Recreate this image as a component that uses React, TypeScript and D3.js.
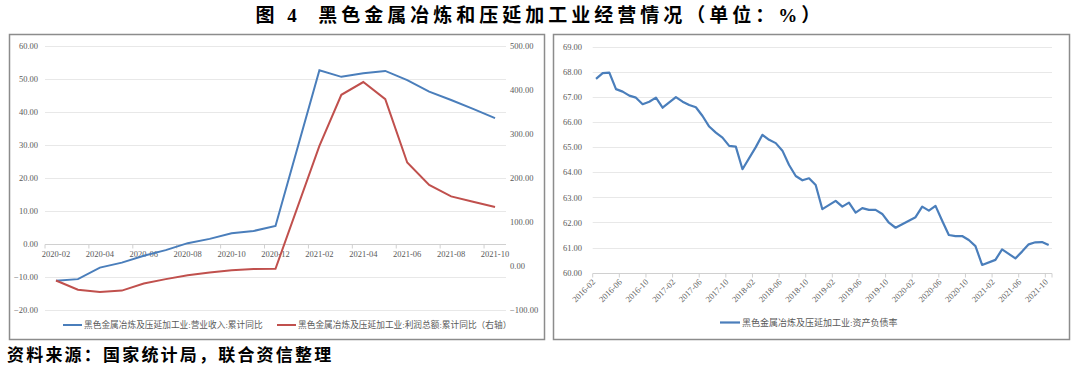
import { useEffect, useRef } from "react";
import * as d3 from "d3";

// left panel: 2020-02 .. 2021-10 (2021-01 not published)
const leftMonths = [
  "2020-02", "2020-03", "2020-04", "2020-05", "2020-06", "2020-07", "2020-08",
  "2020-09", "2020-10", "2020-11", "2020-12", "2021-01", "2021-02", "2021-03",
  "2021-04", "2021-05", "2021-06", "2021-07", "2021-08", "2021-09", "2021-10",
];
const revenueYoY = [
  -11.3, -10.8, -7.3, -5.8, -3.7, -2.0, 0.1, 1.4, 3.1, 3.8, 5.3, null,
  52.5, 50.5, 51.6, 52.3, 49.5, 46.0, 43.5, 40.8, 38.0,
];
const profitYoY = [
  -34, -55, -60, -57, -41, -31, -22, -16, -11, -8, -7.5, null,
  272, 388, 417, 378, 234, 183, 157, 145, 133,
];
const leftTicks = [-20, -10, 0, 10, 20, 30, 40, 50, 60];
const rightTicks = [-100, 0, 100, 200, 300, 400, 500];

// right panel: asset-liability ratio, no January values
const debtMonths = [
  "2016-02", "2016-03", "2016-04", "2016-05", "2016-06", "2016-07", "2016-08", "2016-09", "2016-10", "2016-11", "2016-12",
  "2017-02", "2017-03", "2017-04", "2017-05", "2017-06", "2017-07", "2017-08", "2017-09", "2017-10", "2017-11", "2017-12",
  "2018-02", "2018-03", "2018-04", "2018-05", "2018-06", "2018-07", "2018-08", "2018-09", "2018-10", "2018-11", "2018-12",
  "2019-02", "2019-03", "2019-04", "2019-05", "2019-06", "2019-07", "2019-08", "2019-09", "2019-10", "2019-11", "2019-12",
  "2020-02", "2020-03", "2020-04", "2020-05", "2020-06", "2020-07", "2020-08", "2020-09", "2020-10", "2020-11", "2020-12",
  "2021-02", "2021-03", "2021-04", "2021-05", "2021-06", "2021-07", "2021-08", "2021-09", "2021-10",
];
const debtRatio = [
  67.72, 67.95, 67.97, 67.31, 67.21, 67.05, 66.97, 66.71, 66.81, 66.97, 66.57,
  66.99, 66.81, 66.68, 66.59, 66.24, 65.82, 65.58, 65.38, 65.05, 65.02, 64.12,
  65.0, 65.49, 65.29, 65.16, 64.86, 64.29, 63.85, 63.68, 63.76, 63.49, 62.53,
  62.86, 62.63, 62.79, 62.39, 62.57, 62.5, 62.5, 62.34, 61.99, 61.79, 61.93,
  62.21, 62.63, 62.47, 62.66, 62.07, 61.5, 61.46, 61.46, 61.3, 61.06, 60.31,
  60.51, 60.93, 60.75, 60.57, 60.84, 61.13, 61.21, 61.22, 61.1,
];
const debtTicks = [60, 61, 62, 63, 64, 65, 66, 67, 68, 69];
const debtLabels = [
  "2016-02", "2016-06", "2016-10", "2017-02", "2017-06", "2017-10", "2018-02", "2018-06", "2018-10",
  "2019-02", "2019-06", "2019-10", "2020-02", "2020-06", "2020-10", "2021-02", "2021-06", "2021-10",
];

const W = 1080;
const H = 371;
const NUM = "'Liberation Serif', 'Times New Roman', serif";
const CJK = "'Liberation Serif', 'Noto Sans CJK SC', serif";
const TXT = "#595959";
const BLUE = "#4a7ebb";
const RED = "#c0504d";

const App = () => {
  const ref = useRef<SVGSVGElement | null>(null);

  useEffect(() => {
    const svg = d3.select(ref.current);
    svg.selectAll("*").remove();
    const fmt = d3.format(".2f");

    // title & source
    svg.append("text")
      .attr("x", W / 2).attr("y", 22)
      .attr("text-anchor", "middle")
      .attr("font-family", CJK).attr("font-weight", "bold")
      .attr("font-size", 19).attr("letter-spacing", 4)
      .attr("fill", "#000")
      .style("white-space", "pre")
      .text("图 4  黑色金属冶炼和压延加工业经营情况（单位：%）");
    svg.append("text")
      .attr("x", 7).attr("y", 361)
      .attr("font-family", CJK).attr("font-weight", "bold")
      .attr("font-size", 17).attr("letter-spacing", 2.2)
      .attr("fill", "#000")
      .text("资料来源：国家统计局，联合资信整理");

    // panel frames
    svg.append("rect").attr("x", 9.5).attr("y", 34.5).attr("width", 535).attr("height", 305)
      .attr("fill", "#fff").attr("stroke", "#8c8c8c").attr("stroke-width", 1.5);
    svg.append("rect").attr("x", 553.5).attr("y", 34.5).attr("width", 516).attr("height", 305)
      .attr("fill", "#fff").attr("stroke", "#8c8c8c").attr("stroke-width", 1.5);

    // ---------- left panel ----------
    const x = d3.scaleBand<string>().domain(leftMonths).range([45, 506]);
    const yL = d3.scaleLinear().domain([-20, 60]).range([309.5, 45.5]);
    const yR = d3.scaleLinear().domain([-100, 500]).range([309.5, 45.5]);
    const cx = (m: string) => (x(m) ?? 0) + x.bandwidth() / 2;

    const gL = svg.append("g");
    gL.append("g").selectAll("line").data(leftTicks.filter((t) => t !== 0)).join("line")
      .attr("x1", 45).attr("x2", 506)
      .attr("y1", (d) => Math.round(yL(d)) + 0.5).attr("y2", (d) => Math.round(yL(d)) + 0.5)
      .attr("stroke", "#e8e8e8");

    const zeroY = Math.round(yL(0)) + 0.5;
    gL.append("line").attr("x1", 45).attr("x2", 506).attr("y1", zeroY).attr("y2", zeroY)
      .attr("stroke", "#d0d0d0");
    gL.append("g").selectAll("line")
      .data(d3.range(0, leftMonths.length + 1, 2)).join("line")
      .attr("x1", (k) => 45 + k * x.bandwidth()).attr("x2", (k) => 45 + k * x.bandwidth())
      .attr("y1", zeroY).attr("y2", zeroY + 4)
      .attr("stroke", "#d0d0d0");
    gL.append("g").selectAll("text")
      .data(leftMonths.filter((_, i) => i % 2 === 0)).join("text")
      .attr("x", cx).attr("y", zeroY + 12)
      .attr("text-anchor", "middle")
      .attr("font-family", NUM).attr("font-size", 8.5).attr("fill", TXT)
      .text((d) => d);

    gL.append("g")
      .attr("transform", "translate(38,0)")
      .call(d3.axisLeft(yL).tickValues(leftTicks).tickFormat((d) => fmt(d as number)).tickSize(0).tickPadding(0))
      .call((g) => g.select(".domain").remove())
      .selectAll("text")
      .attr("font-family", NUM).attr("font-size", 8.5).attr("fill", TXT);
    gL.append("g")
      .attr("transform", "translate(510,0)")
      .call(d3.axisRight(yR).tickValues(rightTicks).tickFormat((d) => fmt(d as number)).tickSize(0).tickPadding(0))
      .call((g) => g.select(".domain").remove())
      .selectAll("text")
      .attr("font-family", NUM).attr("font-size", 8.5).attr("fill", TXT);

    const revRows = leftMonths.map((m, i) => ({ m, v: revenueYoY[i] })).filter((d) => d.v !== null);
    const proRows = leftMonths.map((m, i) => ({ m, v: profitYoY[i] })).filter((d) => d.v !== null);

    gL.append("path").datum(revRows)
      .attr("d", d3.line<{ m: string; v: number | null }>().x((d) => cx(d.m)).y((d) => yL(d.v as number)))
      .attr("fill", "none").attr("stroke", BLUE).attr("stroke-width", 2);
    gL.append("path").datum(proRows)
      .attr("d", d3.line<{ m: string; v: number | null }>().x((d) => cx(d.m)).y((d) => yR(d.v as number)))
      .attr("fill", "none").attr("stroke", RED).attr("stroke-width", 2);

    const legL = [
      { x: 63, c: BLUE, t: "黑色金属冶炼及压延加工业:营业收入:累计同比" },
      { x: 277, c: RED, t: "黑色金属冶炼及压延加工业:利润总额:累计同比（右轴）" },
    ];
    legL.forEach((l) => {
      gL.append("line").attr("x1", l.x).attr("x2", l.x + 19).attr("y1", 325).attr("y2", 325)
        .attr("stroke", l.c).attr("stroke-width", 2);
      gL.append("text").attr("x", l.x + 21).attr("y", 328)
        .attr("font-family", CJK).attr("font-size", 8.7).attr("fill", TXT).text(l.t);
    });

    // ---------- right panel ----------
    const allMonths = d3.timeMonth
      .range(new Date(2016, 1, 1), new Date(2021, 10, 1))
      .map(d3.timeFormat("%Y-%m"));
    const xd = d3.scaleBand<string>().domain(allMonths).range([592.7, 1052]);
    const yD = d3.scaleLinear().domain([60, 69]).range([272.7, 46.7]);
    const dx = (m: string) => (xd(m) ?? 0) + xd.bandwidth() / 2;

    const gR = svg.append("g");
    gR.append("g").selectAll("line").data(debtTicks.filter((t) => t !== 60)).join("line")
      .attr("x1", 592.7).attr("x2", 1052)
      .attr("y1", (d) => Math.round(yD(d)) + 0.5).attr("y2", (d) => Math.round(yD(d)) + 0.5)
      .attr("stroke", "#e8e8e8");
    const baseY = Math.round(yD(60)) + 0.5;
    gR.append("line").attr("x1", 592.7).attr("x2", 1052).attr("y1", baseY).attr("y2", baseY)
      .attr("stroke", "#d0d0d0");
    gR.append("g").selectAll("line")
      .data(debtLabels).join("line")
      .attr("x1", (d) => xd(d) ?? 0).attr("x2", (d) => xd(d) ?? 0)
      .attr("y1", baseY).attr("y2", baseY + 4)
      .attr("stroke", "#d0d0d0");
    gR.append("line").attr("x1", 1052).attr("x2", 1052).attr("y1", baseY).attr("y2", baseY + 4)
      .attr("stroke", "#d0d0d0");
    gR.append("g").selectAll("text")
      .data(debtLabels).join("text")
      .attr("transform", (d) => `translate(${(xd(d) ?? 0) + 1},${baseY + 7}) rotate(-45)`)
      .attr("text-anchor", "end").attr("dy", "0.35em")
      .attr("font-family", NUM).attr("font-size", 8.5).attr("fill", TXT)
      .text((d) => d);

    gR.append("g")
      .attr("transform", "translate(582,0)")
      .call(d3.axisLeft(yD).tickValues(debtTicks).tickFormat((d) => fmt(d as number)).tickSize(0).tickPadding(0))
      .call((g) => g.select(".domain").remove())
      .selectAll("text")
      .attr("font-family", NUM).attr("font-size", 8.5).attr("fill", TXT);

    gR.append("path").datum(debtMonths.map((m, i) => ({ m, v: debtRatio[i] })))
      .attr("d", d3.line<{ m: string; v: number }>().x((d) => dx(d.m)).y((d) => yD(d.v)))
      .attr("fill", "none").attr("stroke", BLUE).attr("stroke-width", 2.2)
      .attr("stroke-linejoin", "round");

    gR.append("line").attr("x1", 720).attr("x2", 740).attr("y1", 322.5).attr("y2", 322.5)
      .attr("stroke", BLUE).attr("stroke-width", 2.2);
    gR.append("text").attr("x", 742).attr("y", 325.5)
      .attr("font-family", CJK).attr("font-size", 9).attr("fill", TXT)
      .text("黑色金属冶炼及压延加工业:资产负债率");
  }, []);

  return (
    <svg
      ref={ref}
      width={W}
      height={H}
      style={{ position: "absolute", left: 0, top: 0, background: "#fff" }}
    />
  );
};

export default App;
